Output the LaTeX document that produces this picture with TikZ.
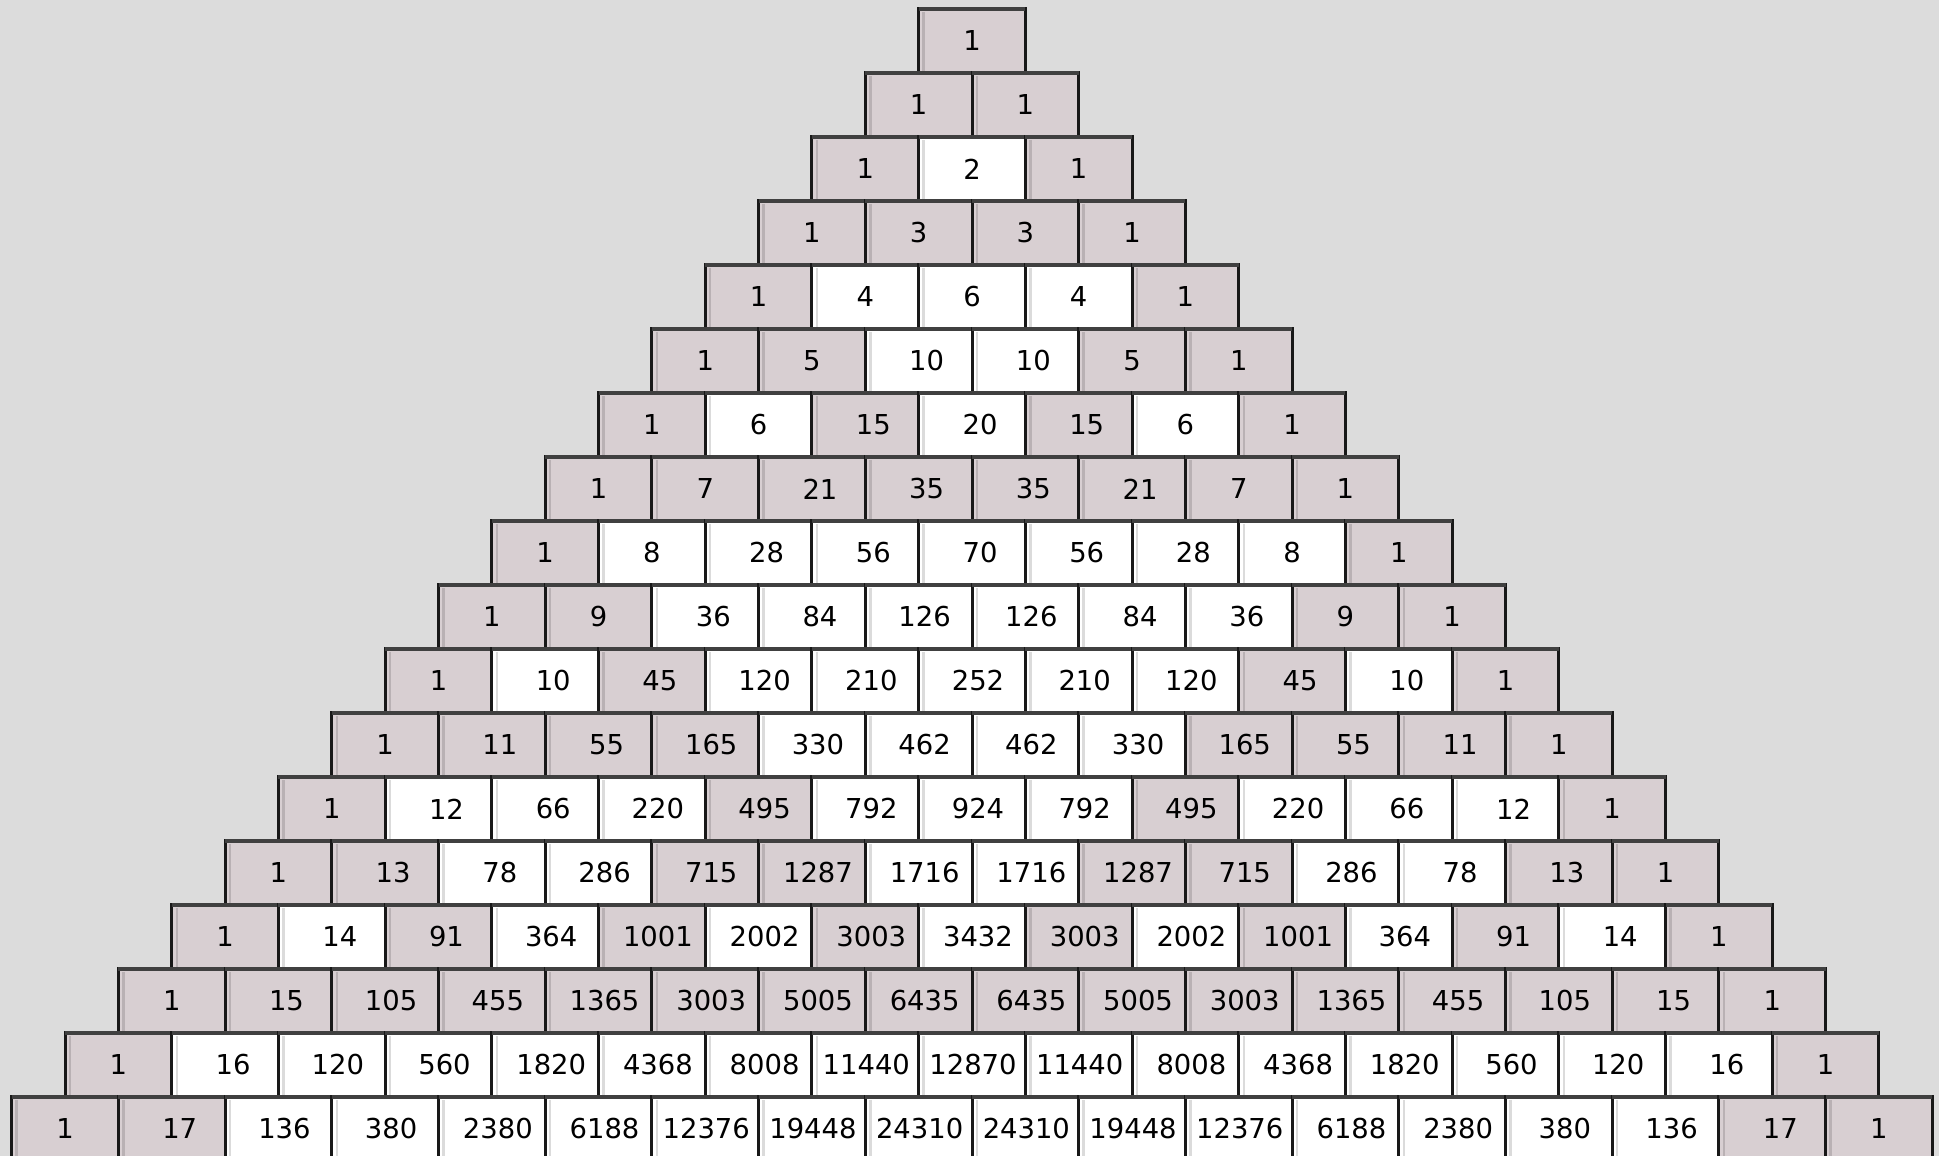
\documentclass[tikz,border=0pt]{standalone}
\usepackage{fontspec}
\setsansfont{DejaVu Sans}
\definecolor{bgcol}{RGB}{220, 220, 220}
\definecolor{oddcol}{RGB}{216, 207, 210}
\definecolor{evencol}{RGB}{255, 255, 255}
\definecolor{edgecol}{RGB}{24, 24, 24}
\definecolor{topcol}{RGB}{64, 64, 64}

\begin{document}
\begin{tikzpicture}[
    font=\sffamily\fontsize{7.8}{9}\selectfont,
    cell/.style={draw=edgecol, line width=0.85pt, fill=#1, minimum width=1.067cm, minimum height=0.64cm, inner sep=0pt, outer sep=0pt},
    leftshade/.style={draw=black, draw opacity=0.14, line width=0.7pt},
    topedge/.style={draw=topcol, line width=1.05pt}
]

% Background and page size
\fill[bgcol] (0,0) rectangle (19.39,-11.56);
\useasboundingbox (0,0) rectangle (19.39,-11.56);

% Rows of the triangle (odd entries shaded)
\foreach \row [count=\r from 0] in {%
    {1},%
    {1,1},%
    {1,2,1},%
    {1,3,3,1},%
    {1,4,6,4,1},%
    {1,5,10,10,5,1},%
    {1,6,15,20,15,6,1},%
    {1,7,21,35,35,21,7,1},%
    {1,8,28,56,70,56,28,8,1},%
    {1,9,36,84,126,126,84,36,9,1},%
    {1,10,45,120,210,252,210,120,45,10,1},%
    {1,11,55,165,330,462,462,330,165,55,11,1},%
    {1,12,66,220,495,792,924,792,495,220,66,12,1},%
    {1,13,78,286,715,1287,1716,1716,1287,715,286,78,13,1},%
    {1,14,91,364,1001,2002,3003,3432,3003,2002,1001,364,91,14,1},%
    {1,15,105,455,1365,3003,5005,6435,6435,5005,3003,1365,455,105,15,1},%
    {1,16,120,560,1820,4368,8008,11440,12870,11440,8008,4368,1820,560,120,16,1},%
    {1,17,136,380,2380,6188,12376,19448,24310,24310,19448,12376,6188,2380,380,136,17,1}%
}{
    \foreach \val [count=\k from 0] in \row {
        \ifodd\val\relax \def\cellfill{oddcol}\else \def\cellfill{evencol}\fi
        % numbers sit a little right of centre
        \ifnum\val<10 \def\txshift{0cm}\else
          \ifnum\val<100 \def\txshift{0.16cm}\else
            \ifnum\val<10000 \def\txshift{0.12cm}\else \def\txshift{0.02cm}\fi\fi\fi
        \node[cell=\cellfill] (c-\r-\k) at ({9.72+(\k-\r/2)*1.067}, {-0.41-0.64*\r}) {\hspace*{\txshift}\raisebox{-0.2mm}{\val}};
        \draw[leftshade] ([xshift=0.05cm,yshift=-0.03cm]c-\r-\k.north west) -- ([xshift=0.05cm]c-\r-\k.south west);
        \draw[topedge] (c-\r-\k.north west) -- (c-\r-\k.north east);
    }
}

\end{tikzpicture}
\end{document}
